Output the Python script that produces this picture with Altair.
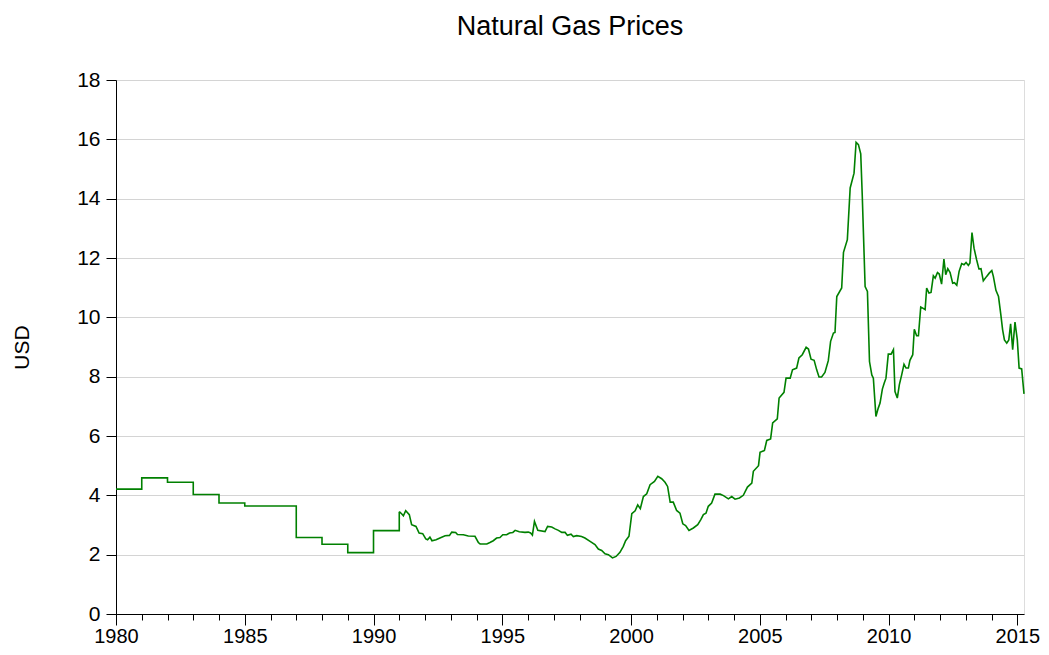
import altair as alt
import pandas as pd

# Annual observations 1980-1990 (USD)
annual_years = [1980, 1981, 1982, 1983, 1984, 1985, 1986, 1987, 1988, 1989, 1990]
annual_prices = [4.21, 4.59, 4.44, 4.03, 3.74, 3.64, 3.64, 2.58, 2.35, 2.07, 2.81]

# Monthly observations from 1991 (decimal year, USD)
monthly_time = [
    1991.00, 1991.09, 1991.16, 1991.25, 1991.39, 1991.48, 1991.65, 1991.77, 1991.91,
    1992.03, 1992.10, 1992.19, 1992.27, 1992.43, 1992.58, 1992.78, 1992.95,
    1993.04, 1993.19, 1993.26, 1993.49, 1993.68, 1993.94,
    1994.07, 1994.14, 1994.40, 1994.52, 1994.65, 1994.78, 1994.91,
    1995.02, 1995.17, 1995.28, 1995.41, 1995.50, 1995.66, 1995.88,
    1996.01, 1996.10, 1996.17, 1996.25, 1996.38, 1996.66, 1996.76, 1996.92,
    1997.05, 1997.18, 1997.31, 1997.44, 1997.53, 1997.67, 1997.76, 1997.89,
    1998.08, 1998.21, 1998.41, 1998.60, 1998.73, 1998.86, 1998.99,
    1999.12, 1999.28, 1999.42, 1999.57, 1999.70, 1999.79, 1999.92,
    2000.03, 2000.16, 2000.26, 2000.36, 2000.48, 2000.61, 2000.74, 2000.91,
    2001.04, 2001.19, 2001.32, 2001.42, 2001.52, 2001.64, 2001.77, 2001.90,
    2002.01, 2002.12, 2002.25, 2002.42, 2002.59, 2002.71, 2002.81, 2002.91,
    2003.00, 2003.13, 2003.26, 2003.46, 2003.59, 2003.78, 2003.91,
    2004.04, 2004.21, 2004.36, 2004.52, 2004.69, 2004.75, 2004.95,
    2005.01, 2005.18, 2005.27, 2005.42, 2005.50, 2005.68, 2005.75, 2005.94,
    2006.02, 2006.18, 2006.27, 2006.43, 2006.52, 2006.65, 2006.80, 2006.89, 2006.99,
    2007.11, 2007.21, 2007.30, 2007.40, 2007.53, 2007.66, 2007.75, 2007.86, 2007.92, 2007.99,
    2008.18, 2008.25, 2008.40, 2008.51, 2008.66, 2008.74, 2008.83, 2008.92, 2008.98,
    2009.09, 2009.18, 2009.26, 2009.35, 2009.41, 2009.51, 2009.60, 2009.67, 2009.76, 2009.83, 2009.90, 2009.99,
    2010.10, 2010.19, 2010.25, 2010.34, 2010.42, 2010.51, 2010.60, 2010.68, 2010.77, 2010.83, 2010.94,
    2011.00, 2011.09, 2011.16, 2011.25, 2011.33, 2011.42, 2011.48, 2011.57, 2011.65, 2011.74, 2011.81, 2011.90, 2011.97,
    2012.06, 2012.15, 2012.22, 2012.30, 2012.39, 2012.49, 2012.56, 2012.65, 2012.74, 2012.84, 2012.93,
    2013.01, 2013.10, 2013.16, 2013.24, 2013.32, 2013.42, 2013.51, 2013.59, 2013.68, 2013.81, 2013.91,
    2014.01, 2014.07, 2014.17, 2014.27, 2014.36, 2014.43, 2014.50, 2014.59, 2014.67, 2014.74, 2014.82, 2014.91,
    2015.00, 2015.07, 2015.17, 2015.26,
]
monthly_prices = [
    3.45, 3.38, 3.31, 3.48, 3.35, 3.01, 2.95, 2.73, 2.71,
    2.53, 2.50, 2.59, 2.47, 2.50, 2.56, 2.64, 2.65,
    2.76, 2.75, 2.68, 2.67, 2.63, 2.62,
    2.41, 2.36, 2.36, 2.41, 2.47, 2.56, 2.58,
    2.67, 2.67, 2.73, 2.75, 2.82, 2.77, 2.75,
    2.76, 2.73, 2.66, 3.12, 2.82, 2.78, 2.95, 2.93,
    2.87, 2.82, 2.75, 2.75, 2.65, 2.69, 2.61, 2.64,
    2.61, 2.56, 2.45, 2.34, 2.19, 2.14, 2.03,
    2.00, 1.89, 1.94, 2.08, 2.28, 2.47, 2.62,
    3.38, 3.48, 3.68, 3.55, 3.96, 4.05, 4.36, 4.47,
    4.64, 4.56, 4.44, 4.30, 3.77, 3.77, 3.49, 3.40,
    3.04, 2.98, 2.82, 2.90, 3.01, 3.18, 3.35, 3.40,
    3.63, 3.74, 4.04, 4.04, 3.99, 3.88, 3.96,
    3.87, 3.91, 4.00, 4.28, 4.41, 4.81, 5.00,
    5.45, 5.51, 5.85, 5.90, 6.44, 6.58, 7.28, 7.47,
    7.95, 7.95, 8.23, 8.29, 8.63, 8.74, 8.99, 8.93, 8.59,
    8.55, 8.23, 7.99, 7.99, 8.14, 8.54, 9.19, 9.47, 9.49, 10.70,
    10.99, 12.19, 12.62, 14.36, 14.86, 15.90, 15.82, 15.51, 14.08,
    11.04, 10.87, 8.51, 8.06, 7.95, 6.66, 6.94, 7.11, 7.58, 7.78, 7.95, 8.76,
    8.76, 8.91, 7.50, 7.28, 7.73, 8.06, 8.42, 8.29, 8.29, 8.55, 8.74,
    9.60, 9.38, 9.38, 10.35, 10.31, 10.26, 10.99, 10.82, 10.84, 11.40, 11.32, 11.51, 11.46,
    11.12, 11.96, 11.44, 11.64, 11.51, 11.15, 11.17, 11.08, 11.55, 11.81, 11.77,
    11.85, 11.75, 11.83, 12.86, 12.33, 11.94, 11.63, 11.64, 11.23, 11.38, 11.49,
    11.58, 11.38, 10.91, 10.70, 10.09, 9.58, 9.24, 9.13, 9.24, 9.78, 8.91, 9.84,
    9.24, 8.29, 8.26, 7.42,
]

y_ticks = list(range(0, 19, 2))
minor_years = list(range(1980, 2016))
major_years = list(range(1980, 2016, 5))

FONT = "Liberation Sans"
GREEN = "#008000"

df_annual = pd.DataFrame({
    "year": annual_years + [monthly_time[0]],
    "price": annual_prices + [monthly_prices[0]],
})
df_monthly = pd.DataFrame({"year": monthly_time, "price": monthly_prices})

x_scale = alt.Scale(domain=[1980, 2015.26], nice=False, zero=False)
y_scale = alt.Scale(domain=[0, 18], nice=False, zero=True)

y_axis = alt.Axis(
    values=y_ticks, title="USD", grid=True, gridColor="#d4d4d4", gridWidth=1,
    tickSize=10, tickColor="black", domainColor="black", labelFontSize=21,
    labelFont=FONT, labelColor="black", labelPadding=6, titleFont=FONT,
    titleFontSize=21, titleFontWeight="normal", titleColor="black", titlePadding=44,
)

major_axis = alt.Axis(
    values=major_years, format="d", orient="bottom", tickSize=11, tickColor="black",
    domainColor="black", labelFontSize=20, labelFont=FONT, labelColor="black",
    labelPadding=1, grid=False, title=None, labelFlush=False,
)
minor_axis = alt.Axis(
    values=minor_years, orient="bottom", labels=False, tickSize=6, tickColor="black",
    domain=False, grid=False, title=None,
)

annual_line = alt.Chart(df_annual).mark_line(
    color=GREEN, strokeWidth=1.6, interpolate="step-after"
).encode(
    x=alt.X("year:Q", scale=x_scale, axis=major_axis),
    y=alt.Y("price:Q", scale=y_scale, axis=y_axis),
)

monthly_line = alt.Chart(df_monthly).mark_line(
    color=GREEN, strokeWidth=1.6
).encode(
    x=alt.X("year:Q", scale=x_scale, axis=minor_axis),
    y=alt.Y("price:Q", scale=y_scale),
)

chart = alt.layer(annual_line, monthly_line).resolve_axis(x="independent").properties(
    width=908,
    height=534,
    title=alt.TitleParams(
        "Natural Gas Prices", font=FONT, fontSize=27, fontWeight="normal",
        color="black", anchor="middle", offset=28,
    ),
    autosize=alt.AutoSizeParams(type="none"),
    padding={"left": 108, "top": 72, "right": 17, "bottom": 36},
).configure_view(
    stroke="black", strokeWidth=1
).configure(background="white")

chart.save("out.html", embed_options={"renderer": "svg", "actions": False})
